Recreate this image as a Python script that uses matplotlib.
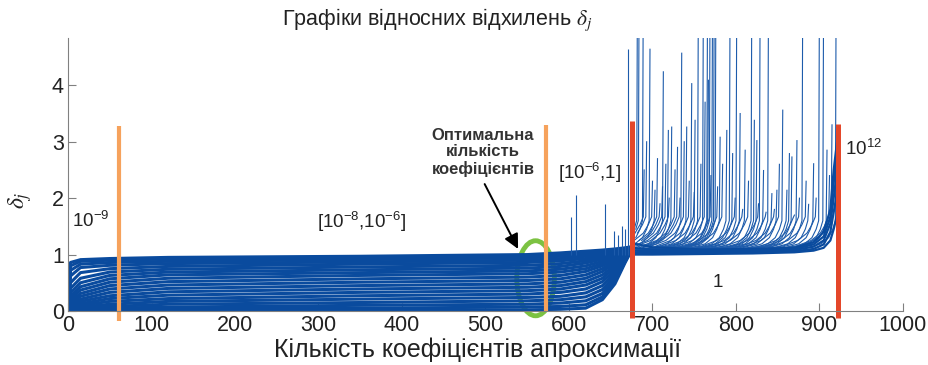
import numpy as np
import matplotlib
matplotlib.use('Agg')
import matplotlib.pyplot as plt
from matplotlib.patches import Ellipse

plt.rcParams['font.family'] = ['Liberation Sans', 'DejaVu Sans']

# lower band of curves (x < 675)
low_x = [0, 3, 15, 50, 120, 350, 550, 590, 620, 640, 655, 667, 675]
low_curves = [
    [0.0, 0.86, 0.91, 0.93, 0.95, 0.97, 1.00, 1.03, 1.06, 1.08, 1.10, 1.12, 1.14],
    [0.0, 0.80, 0.88, 0.90, 0.92, 0.94, 0.97, 1.00, 1.03, 1.06, 1.08, 1.11, 1.13],
    [0.0, 0.72, 0.83, 0.86, 0.88, 0.91, 0.94, 0.97, 1.00, 1.03, 1.06, 1.10, 1.12],
    [0.0, 0.62, 0.77, 0.81, 0.84, 0.87, 0.90, 0.93, 0.97, 1.01, 1.05, 1.09, 1.12],
    [0.0, 0.50, 0.68, 0.75, 0.79, 0.83, 0.86, 0.89, 0.93, 0.98, 1.03, 1.08, 1.11],
    [0.0, 0.40, 0.58, 0.69, 0.74, 0.78, 0.81, 0.84, 0.89, 0.95, 1.01, 1.07, 1.11],
    [0.0, 0.32, 0.50, 0.63, 0.69, 0.73, 0.76, 0.79, 0.85, 0.92, 0.99, 1.06, 1.10],
    [0.0, 0.26, 0.43, 0.57, 0.64, 0.68, 0.71, 0.74, 0.80, 0.88, 0.97, 1.05, 1.10],
    [0.0, 0.21, 0.37, 0.51, 0.58, 0.63, 0.66, 0.69, 0.75, 0.84, 0.94, 1.04, 1.10],
    [0.0, 0.17, 0.31, 0.45, 0.52, 0.57, 0.60, 0.63, 0.70, 0.80, 0.91, 1.03, 1.09],
    [0.0, 0.13, 0.26, 0.39, 0.46, 0.51, 0.54, 0.57, 0.64, 0.75, 0.88, 1.02, 1.09],
    [0.0, 0.10, 0.21, 0.33, 0.40, 0.45, 0.48, 0.51, 0.58, 0.70, 0.85, 1.00, 1.09],
    [0.0, 0.08, 0.17, 0.27, 0.34, 0.39, 0.42, 0.45, 0.52, 0.64, 0.81, 0.99, 1.09],
    [0.0, 0.06, 0.13, 0.22, 0.28, 0.33, 0.36, 0.39, 0.46, 0.58, 0.77, 0.97, 1.08],
    [0.0, 0.05, 0.10, 0.17, 0.22, 0.27, 0.30, 0.33, 0.39, 0.52, 0.72, 0.95, 1.08],
    [0.0, 0.04, 0.07, 0.12, 0.17, 0.21, 0.24, 0.26, 0.32, 0.45, 0.67, 0.93, 1.08],
    [0.0, 0.03, 0.05, 0.08, 0.12, 0.15, 0.18, 0.20, 0.25, 0.38, 0.62, 0.91, 1.08],
    [0.0, 0.02, 0.03, 0.05, 0.07, 0.10, 0.12, 0.14, 0.18, 0.31, 0.57, 0.89, 1.08],
    [0.0, 0.01, 0.02, 0.03, 0.04, 0.05, 0.07, 0.08, 0.11, 0.25, 0.52, 0.87, 1.08],
    [0.0, 0.01, 0.01, 0.01, 0.02, 0.02, 0.02, 0.03, 0.05, 0.20, 0.48, 0.85, 1.08],
]

# short spikes before the red line
spk1_x = [603, 608, 643, 654, 659, 663, 667, 671]
spk1_top = [1.66, 2.05, 1.9, 1.42, 1.35, 1.5, 1.45, 4.64]

# sharp spikes after the red line (end of each curve)
spike_x = [682, 684, 689, 697, 703, 713, 719, 723, 735, 741, 747, 751, 755,
           761, 766, 767, 769, 772, 774, 776, 781, 789, 793, 796, 801, 805,
           811, 819, 822, 825, 829, 833, 839, 843, 849, 856, 861, 864, 867,
           873, 880, 887, 893, 900, 905, 909, 920]
spike_top = [6, 6, 6, 4.64, 2.14, 4.24, 3.2, 3.26, 4.57, 3.26, 4.03, 3.38, 6,
             6, 6, 4.09, 6, 6, 6, 6, 3.08, 3.2, 6, 2.79, 6, 3.5,
             2.85, 6, 3.38, 3.02, 6, 2.49, 6, 2.08, 2.14, 3.56, 2.14, 2.79, 2.73,
             3.02, 6, 1.89, 2.61, 6, 6, 2.85, 6]
tail_dx = [-260, -140, -70, -35, -18, -9, -4, -1]
tail_dy = [0.0, 0.01, 0.03, 0.07, 0.14, 0.25, 0.4, 0.55]

# slowly rising curves of the fan right after the red line
fan_x = [690, 693, 700, 706, 709, 712, 716, 720, 727, 730, 733, 738, 744,
         750, 758, 763, 770, 778, 784, 799, 808, 815, 827, 836, 846, 852,
         870, 876, 884, 896, 912, 915]
fan_top = [2.5, 3.0, 2.3, 2.7, 1.9, 2.2, 2.6, 2.0, 2.5, 2.9, 2.0, 3.0, 2.3,
           2.1, 2.6, 3.7, 2.4, 2.2, 2.6, 2.0, 1.8, 2.3, 1.9, 1.75, 1.8, 2.6,
           1.7, 2.0, 2.3, 2.0, 2.4, 3.3]
slow_dx = [-120, -70, -40, -22, -11, -5, -1]
slow_dy = [0.0, 0.04, 0.1, 0.2, 0.33, 0.48, 0.62]

# flat curves along the bottom of the right part
base_x = [676, 700, 760, 820, 870, 893, 905, 913, 917, 921]
base_curves = [
    [1.00, 1.00, 1.01, 1.02, 1.04, 1.07, 1.12, 1.25, 1.45, 1.70],
    [1.03, 1.03, 1.03, 1.04, 1.06, 1.10, 1.18, 1.40, 1.75, 2.10],
    [1.07, 1.06, 1.05, 1.06, 1.08, 1.14, 1.25, 1.55, 2.00, 2.50],
    [1.12, 1.09, 1.07, 1.08, 1.10, 1.18, 1.32, 1.67, 2.27, 2.80],
    [1.20, 1.13, 1.09, 1.10, 1.12, 1.22, 1.40, 1.80, 2.50, 3.00],
]

blue = '#0a4b9e'
spike_blue = '#1d5bab'
fig = plt.figure(figsize=(9.29, 3.65), dpi=100)
ax = fig.add_axes([0.0732, 0.148, 0.8988, 0.748])

for row in low_curves:
    ax.plot(low_x, row, color=blue, lw=2.2, solid_capstyle='butt')

ax.vlines(spk1_x, 1.0, spk1_top, color=spike_blue, lw=0.8)

for sx, top in zip(spike_x, spike_top):
    xs = sx + np.array(tail_dx)
    ys = 1.05 + np.array(tail_dy)
    keep = xs >= 676
    ax.plot(list(xs[keep]) + [sx], list(ys[keep]) + [top], color=spike_blue, lw=0.8)

for sx, top in zip(fan_x, fan_top):
    xs = sx + np.array(slow_dx)
    ys = 1.05 + np.array(slow_dy)
    keep = xs >= 676
    ax.plot(list(xs[keep]) + [sx], list(ys[keep]) + [top], color=spike_blue, lw=0.8)

for row in base_curves:
    ax.plot(base_x, row, color=blue, lw=1.6)

# boundary lines
orange = '#f6a25c'
red = '#e4472a'
ax.plot([61, 61], [-0.17, 3.28], color=orange, lw=3.0, clip_on=False, solid_capstyle='butt')
ax.plot([573, 573], [-0.02, 3.3], color=orange, lw=3.0, clip_on=False, solid_capstyle='butt')
ax.plot([675, 675], [-0.13, 3.36], color=red, lw=3.6, clip_on=False, solid_capstyle='butt')
ax.plot([922, 922], [-0.13, 3.31], color=red, lw=3.6, clip_on=False, solid_capstyle='butt')

ax.add_patch(Ellipse((560, 0.58), 45, 1.33, fill=False, edgecolor='#7cc242',
                     lw=3.5, clip_on=False))

ax.set_xlim(0, 1000)
ax.set_ylim(0, 4.84)
ax.set_xticks(range(0, 1001, 100))
ax.set_yticks([0, 1, 2, 3, 4])
for s in ['top', 'right']:
    ax.spines[s].set_visible(False)
for s in ['left', 'bottom']:
    ax.spines[s].set_color('#808080')
ax.tick_params(direction='in', length=6, color='#808080', labelsize=15.5,
               labelcolor='#222222', pad=3)

tc = '#222222'
ax.text(5, 1.6, r'$\mathregular{10^{-9}}$', fontsize=13.5, color=tc, va='center')
ax.text(352, 1.57, r'$\mathregular{[10^{-8}{,}10^{-6}]}$', fontsize=13.5, color=tc,
        ha='center', va='center')
ax.text(587, 2.45, r'$\mathregular{[10^{-6}{,}1]}$', fontsize=13.5, color=tc, va='center')
ax.text(778, 0.5, '1', fontsize=13.5, color=tc, ha='center', va='center')
ax.text(931, 2.88, r'$\mathregular{10^{12}}$', fontsize=13.5, color=tc, va='center')

ax.annotate('', xy=(539, 1.1), xytext=(499, 2.25),
            arrowprops=dict(arrowstyle='-|>', color='black', lw=1.4,
                            mutation_scale=22, shrinkA=0, shrinkB=0))
ax.text(497, 2.81, 'Оптимальна\nкількість\nкоефіцієнтів', ha='center', va='center',
        fontsize=12, fontweight='bold', color='#333333', linespacing=1.1)

fig.text(0.471, 0.945, r'Графіки відносних відхилень $\delta_j$', fontsize=15.5,
         ha='center', va='center', color=tc, math_fontfamily='stix')
fig.text(0.514, 0.008, 'Кількість коефіцієнтів апроксимації', fontsize=18,
         ha='center', va='bottom', color=tc)
fig.text(0.022, 0.452, r'$\delta_j$', fontsize=17, rotation=90, ha='center',
         va='center', color=tc, math_fontfamily='stix')

fig.savefig('out.png', dpi=100)
